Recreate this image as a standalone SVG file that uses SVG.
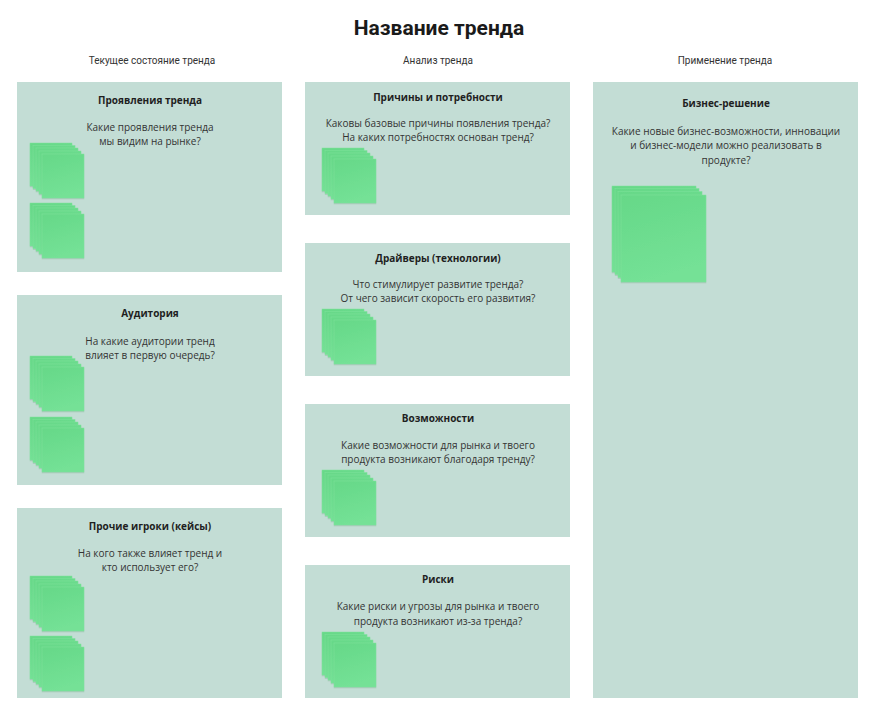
<svg xmlns="http://www.w3.org/2000/svg" xmlns:xlink="http://www.w3.org/1999/xlink" width="881" height="720" viewBox="0 0 881 720">
  <style>
    .bg { fill: #ffffff; }
    .panel { fill: #c3ddd5; }
    .title { font-family: Roboto, "Liberation Sans", sans-serif; font-weight: 700; font-size: 21px; fill: #1a1a1a; text-anchor: middle; }
    .col { font-family: Roboto, "Liberation Sans", sans-serif; font-size: 10px; fill: #333333; text-anchor: middle; }
    .ph { font-family: "Open Sans", "Noto Sans", sans-serif; font-weight: 700; font-size: 10px; fill: #1f1f1f; text-anchor: middle; }
    .pq { font-family: "Open Sans", "Noto Sans", sans-serif; font-size: 10px; fill: #333333; text-anchor: middle; }
    .note { fill: url(#noteFill); stroke: #7fe39c; stroke-width: 0.5; filter: url(#noteShadow); }
  </style>
  <defs>
    <linearGradient id="noteFill" x1="0" y1="0" x2="0.3" y2="1">
      <stop offset="0" stop-color="#66d888"/>
      <stop offset="1" stop-color="#74e196"/>
    </linearGradient>
    <filter id="noteShadow" x="-10%" y="-10%" width="130%" height="130%">
      <feDropShadow dx="0" dy="1" stdDeviation="0.7" flood-color="#2f6b48" flood-opacity="0.22"/>
    </filter>
    <!-- small pile of sticky notes -->
    <symbol id="stackSmall" overflow="visible">
      <rect class="note" x="0" y="0" width="42" height="43"/>
      <rect class="note" x="3" y="2.5" width="42" height="43"/>
      <rect class="note" x="6" y="5" width="42" height="43"/>
      <rect class="note" x="9" y="8" width="42" height="43"/>
      <rect class="note" x="12" y="11" width="42" height="44"/>
    </symbol>
    <!-- large pile of sticky notes -->
    <symbol id="stackLarge" overflow="visible">
      <rect class="note" x="0" y="0" width="84" height="86"/>
      <rect class="note" x="3" y="2.5" width="84" height="86"/>
      <rect class="note" x="6" y="5.5" width="84" height="86"/>
      <rect class="note" x="9" y="9" width="85" height="87"/>
    </symbol>
  </defs>

  <rect class="bg" x="0" y="0" width="881" height="720"/>

  <g id="header">
    <text class="title" x="439" y="34.5">Название тренда</text>
    <text class="col" x="152" y="64">Текущее состояние тренда</text>
    <text class="col" x="438" y="64">Анализ тренда</text>
    <text class="col" x="725" y="64">Применение тренда</text>
  </g>

  <!-- column 1: current state -->
  <g id="manifestations">
    <rect class="panel" x="17" y="82" width="265" height="190"/>
    <text class="ph" x="150" y="103.5">Проявления тренда</text>
    <text class="pq" x="150" y="130.5">Какие проявления тренда</text>
    <text class="pq" x="150" y="145">мы видим на рынке?</text>
    <use xlink:href="#stackSmall" x="30" y="143"/>
    <use xlink:href="#stackSmall" x="30" y="203"/>
  </g>

  <g id="audience">
    <rect class="panel" x="17" y="295" width="265" height="190"/>
    <text class="ph" x="150" y="316.5">Аудитория</text>
    <text class="pq" x="150" y="344.5">На какие аудитории тренд</text>
    <text class="pq" x="150" y="359">влияет в первую очередь?</text>
    <use xlink:href="#stackSmall" x="30" y="356"/>
    <use xlink:href="#stackSmall" x="30" y="417"/>
  </g>

  <g id="players">
    <rect class="panel" x="17" y="508" width="265" height="190"/>
    <text class="ph" x="150" y="529.5">Прочие игроки (кейсы)</text>
    <text class="pq" x="150" y="556.5">На кого также влияет тренд и</text>
    <text class="pq" x="150" y="571">кто использует его?</text>
    <use xlink:href="#stackSmall" x="30" y="576"/>
    <use xlink:href="#stackSmall" x="30" y="636"/>
  </g>

  <!-- column 2: analysis -->
  <g id="causes">
    <rect class="panel" x="305" y="82" width="265" height="133"/>
    <text class="ph" x="438" y="100.5">Причины и потребности</text>
    <text class="pq" x="438" y="127">Каковы базовые причины появления тренда?</text>
    <text class="pq" x="438" y="141">На каких потребностях основан тренд?</text>
    <use xlink:href="#stackSmall" x="322" y="148"/>
  </g>

  <g id="drivers">
    <rect class="panel" x="305" y="243" width="265" height="133"/>
    <text class="ph" x="438" y="261.5">Драйверы (технологии)</text>
    <text class="pq" x="438" y="288">Что стимулирует развитие тренда?</text>
    <text class="pq" x="438" y="302">От чего зависит скорость его развития?</text>
    <use xlink:href="#stackSmall" x="322" y="309"/>
  </g>

  <g id="opportunities">
    <rect class="panel" x="305" y="404" width="265" height="133"/>
    <text class="ph" x="438" y="422">Возможности</text>
    <text class="pq" x="438" y="449">Какие возможности для рынка и твоего</text>
    <text class="pq" x="438" y="463">продукта возникают благодаря тренду?</text>
    <use xlink:href="#stackSmall" x="322" y="470"/>
  </g>

  <g id="risks">
    <rect class="panel" x="305" y="565" width="265" height="133"/>
    <text class="ph" x="438" y="583">Риски</text>
    <text class="pq" x="438" y="610">Какие риски и угрозы для рынка и твоего</text>
    <text class="pq" x="438" y="624.5">продукта возникают из-за тренда?</text>
    <use xlink:href="#stackSmall" x="322" y="632"/>
  </g>

  <!-- column 3: application -->
  <g id="business">
    <rect class="panel" x="593" y="82" width="265" height="616"/>
    <text class="ph" x="726" y="107">Бизнес-решение</text>
    <text class="pq" x="726" y="135">Какие новые бизнес-возможности, инновации</text>
    <text class="pq" x="726" y="149">и бизнес-модели можно реализовать в</text>
    <text class="pq" x="726" y="163.5">продукте?</text>
    <use xlink:href="#stackLarge" x="612" y="186"/>
  </g>
</svg>
